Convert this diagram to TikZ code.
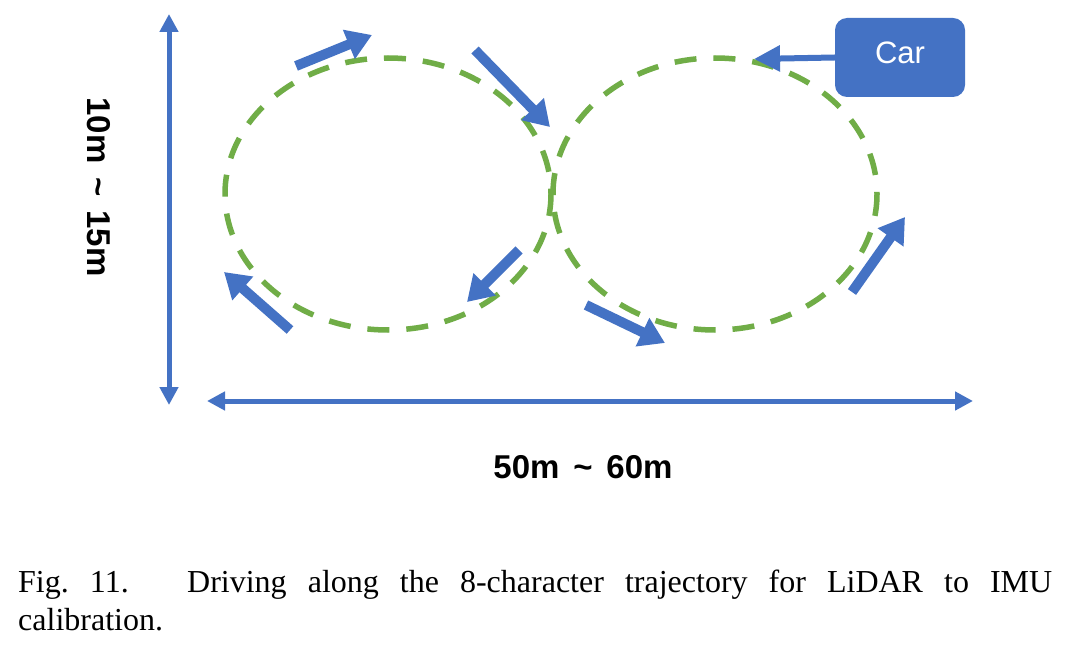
\documentclass[tikz,border=0pt]{standalone}
\usepackage{fontspec}
\setmainfont{Liberation Serif}
\setsansfont{Liberation Sans}
\usetikzlibrary{arrows.meta,positioning}
\definecolor{carblue}{HTML}{4472C4}
\definecolor{trackgreen}{HTML}{70AD47}
\tikzset{
  track/.style={trackgreen, line width=5.5pt, dash pattern=on 22pt off 17pt},
  heading/.style={carblue, line width=10pt, -{Triangle[length=25pt,width=30pt]}},
  span/.style={carblue, line width=5pt, {Triangle[length=18pt,width=18pt]}-{Triangle[length=18pt,width=18pt]}},
  pointer/.style={carblue, line width=6pt, -{Triangle[length=26pt,width=25pt]}},
  carbox/.style={fill=carblue, rounded corners=12pt, minimum width=130pt, minimum height=79pt, text height=22pt, text depth=9pt, text=white, font=\sffamily\fontsize{31}{31}\selectfont},
  dimlabel/.style={font=\sffamily\bfseries\fontsize{33}{33}\selectfont, inner sep=0pt},
  caption/.style={font=\rmfamily\fontsize{32}{38}\selectfont, text width=1034pt, align=justify, inner sep=0pt}
}

\begin{document}
\begin{tikzpicture}[x=1pt,y=-1pt]
  \useasboundingbox[fill=white] (0,0) rectangle (1071,647);
  % the figure-eight track
  \draw[track] (388,194) ellipse[x radius=163, y radius=136];
  \draw[track] (715,194) ellipse[x radius=162, y radius=136];
  % driving direction
  \draw[heading] (296,66) -- (372,35);
  \draw[heading] (475,50) -- (550,127);
  \draw[heading] (519,250) -- (467,302);
  \draw[heading] (290,330) -- (224,272);
  \draw[heading] (586,305) -- (665,343);
  \draw[heading] (852,292) -- (905,217);
  % size of the area
  \coordinate (vtop) at (169,14);
  \coordinate (vbot) at (169,405);
  \coordinate (hleft) at (207,401);
  \coordinate (hright) at (973,401);
  \draw[span] (vtop) -- (vbot);
  \draw[span] (hleft) -- (hright);
  \node[dimlabel, rotate=-90] (vlabel) at (99,187) {10m\hspace{0.42em}\textasciitilde\hspace{0.42em}15m};
  \node[dimlabel, anchor=base] (hlabel) at (583,478) {50m\hspace{0.42em}\textasciitilde\hspace{0.42em}60m};
  % the car
  \node[carbox] (car) at (900,57.5) {Car};
  \coordinate (carpos) at (754,59);
  \draw[pointer] (car.west) -- (carpos);
  % caption
  \node[caption, anchor=north west] (cap) at (18,570) {Fig.~11.\hspace{0.27em} Driving along the 8-character trajectory for LiDAR to IMU\linebreak calibration.};
\end{tikzpicture}
\end{document}
